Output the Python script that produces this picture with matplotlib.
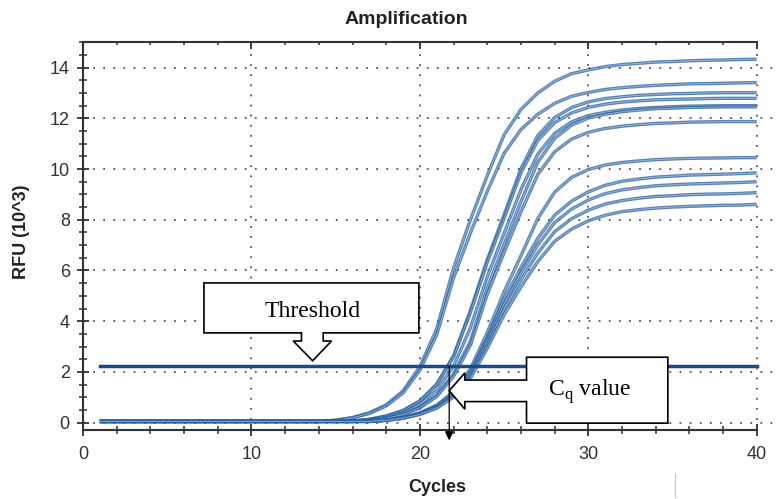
import matplotlib
matplotlib.use("Agg")
import matplotlib.pyplot as plt
from matplotlib.patches import Polygon
from matplotlib.lines import Line2D
from matplotlib.ticker import MultipleLocator

plt.rcParams['font.family'] = ['Liberation Sans', 'DejaVu Sans']
plt.rcParams['mathtext.fontset'] = 'custom'
plt.rcParams['mathtext.rm'] = 'Liberation Serif'

# 数据：每条曲线在第 1..40 个循环的 RFU (x10^3)
cycles = list(range(1, 41))

rfu_a = [0.05, 0.05, 0.05, 0.05, 0.05, 0.05, 0.05, 0.05, 0.05, 0.05,
         0.05, 0.05, 0.05, 0.05, 0.10, 0.20, 0.39, 0.70, 1.25, 2.21,
         3.70, 6.10, 8.00, 9.74, 11.35, 12.35, 13.00, 13.46, 13.76, 13.91,
         14.04, 14.12, 14.17, 14.22, 14.24, 14.27, 14.29, 14.30, 14.32, 14.33]
rfu_b = [0.04, 0.04, 0.04, 0.04, 0.04, 0.04, 0.04, 0.04, 0.04, 0.04,
         0.04, 0.04, 0.04, 0.04, 0.09, 0.19, 0.36, 0.66, 1.17, 2.07,
         3.46, 5.71, 7.48, 9.12, 10.62, 11.56, 12.16, 12.59, 12.87, 13.02,
         13.14, 13.21, 13.26, 13.30, 13.33, 13.36, 13.37, 13.38, 13.40, 13.41]
rfu_c = [0.06, 0.06, 0.06, 0.06, 0.06, 0.06, 0.06, 0.06, 0.06, 0.06,
         0.06, 0.06, 0.06, 0.06, 0.06, 0.07, 0.13, 0.26, 0.48, 0.86,
         1.52, 2.64, 4.42, 6.43, 8.20, 10.02, 11.32, 12.03, 12.42, 12.65,
         12.78, 12.85, 12.91, 12.94, 12.97, 12.98, 13.00, 13.01, 13.01, 13.01]
rfu_d = [0.05, 0.05, 0.05, 0.05, 0.05, 0.05, 0.05, 0.05, 0.05, 0.05,
         0.05, 0.05, 0.05, 0.05, 0.05, 0.06, 0.13, 0.26, 0.47, 0.84,
         1.50, 2.60, 4.35, 6.32, 8.06, 9.85, 11.13, 11.83, 12.21, 12.43,
         12.56, 12.64, 12.69, 12.73, 12.75, 12.76, 12.78, 12.79, 12.79, 12.79]
rfu_e = [0.05, 0.05, 0.05, 0.05, 0.05, 0.05, 0.05, 0.05, 0.05, 0.05,
         0.05, 0.05, 0.05, 0.05, 0.05, 0.05, 0.11, 0.21, 0.40, 0.72,
         1.28, 2.23, 3.74, 5.75, 7.47, 9.19, 10.59, 11.41, 11.86, 12.11,
         12.24, 12.33, 12.39, 12.43, 12.46, 12.48, 12.49, 12.50, 12.50, 12.50]
rfu_f = [0.05, 0.05, 0.05, 0.05, 0.05, 0.05, 0.05, 0.05, 0.05, 0.05,
         0.05, 0.05, 0.05, 0.05, 0.05, 0.05, 0.09, 0.17, 0.34, 0.61,
         1.08, 1.92, 3.21, 5.30, 7.03, 8.72, 10.27, 11.21, 11.73, 12.01,
         12.16, 12.26, 12.33, 12.38, 12.40, 12.43, 12.44, 12.45, 12.45, 12.45]
rfu_h = [0.04, 0.04, 0.04, 0.04, 0.04, 0.04, 0.04, 0.04, 0.04, 0.04,
         0.04, 0.04, 0.04, 0.04, 0.04, 0.04, 0.08, 0.17, 0.32, 0.58,
         1.03, 1.83, 3.06, 5.06, 6.71, 8.31, 9.79, 10.68, 11.18, 11.45,
         11.60, 11.69, 11.75, 11.80, 11.82, 11.85, 11.86, 11.87, 11.87, 11.87]
rfu_g = [0.05, 0.05, 0.05, 0.05, 0.05, 0.05, 0.05, 0.05, 0.05, 0.05,
         0.05, 0.05, 0.05, 0.05, 0.05, 0.05, 0.05, 0.10, 0.21, 0.39,
         0.69, 1.22, 2.12, 3.55, 5.16, 6.58, 8.05, 9.09, 9.67, 9.98,
         10.16, 10.26, 10.32, 10.37, 10.40, 10.42, 10.43, 10.44, 10.45, 10.45]
rfu_i = [0.06, 0.06, 0.06, 0.06, 0.06, 0.06, 0.06, 0.06, 0.06, 0.06,
         0.06, 0.06, 0.06, 0.06, 0.06, 0.06, 0.06, 0.10, 0.20, 0.36,
         0.65, 1.15, 2.00, 3.35, 4.87, 6.12, 7.27, 8.18, 8.73, 9.10,
         9.36, 9.52, 9.61, 9.68, 9.72, 9.76, 9.78, 9.80, 9.82, 9.85]
rfu_j = [0.05, 0.05, 0.05, 0.05, 0.05, 0.05, 0.05, 0.05, 0.05, 0.05,
         0.05, 0.05, 0.05, 0.05, 0.05, 0.05, 0.05, 0.10, 0.19, 0.35,
         0.63, 1.11, 1.93, 3.23, 4.69, 5.90, 7.01, 7.89, 8.42, 8.78,
         9.03, 9.18, 9.27, 9.34, 9.38, 9.41, 9.43, 9.45, 9.47, 9.50]
rfu_k = [0.04, 0.04, 0.04, 0.04, 0.04, 0.04, 0.04, 0.04, 0.04, 0.04,
         0.04, 0.04, 0.04, 0.04, 0.04, 0.04, 0.04, 0.09, 0.18, 0.34,
         0.60, 1.06, 1.84, 3.08, 4.48, 5.63, 6.69, 7.53, 8.04, 8.38,
         8.62, 8.76, 8.85, 8.92, 8.95, 8.99, 9.01, 9.02, 9.04, 9.07]
rfu_l = [0.05, 0.05, 0.05, 0.05, 0.05, 0.05, 0.05, 0.05, 0.05, 0.05,
         0.05, 0.05, 0.05, 0.05, 0.05, 0.05, 0.05, 0.09, 0.17, 0.32,
         0.57, 1.01, 1.75, 2.93, 4.25, 5.35, 6.35, 7.15, 7.63, 7.96,
         8.18, 8.32, 8.40, 8.46, 8.50, 8.53, 8.55, 8.57, 8.58, 8.61]

curves = [rfu_a, rfu_b, rfu_c, rfu_d, rfu_e, rfu_f, rfu_h,
          rfu_g, rfu_i, rfu_j, rfu_k, rfu_l]

threshold = 2.22
cq = 21.74

fig = plt.figure(figsize=(7.8, 4.99), dpi=100)
ax = fig.add_axes([83/780, 1 - 430/499, 694/780, 388/499])
ax.set_xlim(0, 41.2)
ax.set_ylim(-0.29, 15.01)

# 网格（点线）
grid_style = dict(color='#555555', lw=1.3, ls=(0, (1, 4.6)), zorder=1)
for yv in range(0, 15, 2):
    ax.axhline(yv, **grid_style)
for xv in range(10, 41, 10):
    ax.axvline(xv, **grid_style)

# 扩增曲线
for rfu in curves:
    ax.plot(cycles, rfu, color='#2a62a0', lw=2.4, alpha=0.78, zorder=3,
            solid_joinstyle='round', solid_capstyle='butt')
    ax.plot(cycles, rfu, color='#d6e2ef', lw=0.6, alpha=0.55, zorder=3,
            solid_joinstyle='round')

# 阈值线
ax.plot([cycles[0], cycles[-1]], [threshold, threshold], color='#1b4a86',
        lw=2.5, zorder=4)

# 坐标轴
for side in ['right', 'top']:
    ax.spines[side].set_visible(False)
for side in ['left', 'bottom']:
    ax.spines[side].set_color('#333333')
    ax.spines[side].set_linewidth(1.5)
ax.spines['bottom'].set_bounds(0, 40)

ax.xaxis.set_major_locator(MultipleLocator(10))
ax.xaxis.set_minor_locator(MultipleLocator(2))
ax.yaxis.set_major_locator(MultipleLocator(2))
ax.yaxis.set_minor_locator(MultipleLocator(0.5))
ax.set_yticks(range(0, 15, 2))
ax.tick_params(which='major', direction='inout', length=9, width=1.3,
               color='#333333', labelsize=13, labelcolor='#333333')
ax.tick_params(which='minor', direction='inout', length=5.5, width=1.1,
               color='#333333')
ax.tick_params(axis='x', which='major', pad=7)
ax.tick_params(axis='y', which='major', pad=5)

top = ax.twiny()
top.set_xlim(ax.get_xlim())
for side in ['right', 'left', 'bottom']:
    top.spines[side].set_visible(False)
top.spines['top'].set_bounds(0, 40)
top.spines['top'].set_color('#333333')
top.spines['top'].set_linewidth(1.5)
top.xaxis.set_major_locator(MultipleLocator(10))
top.xaxis.set_minor_locator(MultipleLocator(2))
top.tick_params(which='major', direction='in', length=5, width=1.3,
                color='#333333', labeltop=False)
top.tick_params(which='minor', direction='in', length=2.5, width=1.1,
                color='#333333')

# 标注：Threshold
thr_box = [(7.18, 5.51), (19.94, 5.51), (19.94, 3.54), (14.26, 3.54),
           (14.26, 3.22), (14.76, 3.22), (13.63, 2.44), (12.48, 3.22),
           (12.97, 3.22), (12.97, 3.54), (7.18, 3.54)]
ax.add_patch(Polygon(thr_box, closed=True, facecolor='white',
                     edgecolor='black', lw=1.2, zorder=6))
ax.text(13.62, 4.38, 'Threshold', ha='center', va='center', fontsize=17,
        family=['Liberation Serif'], zorder=7)

# 标注：Cq value
cq_box = [(26.33, 2.58), (34.72, 2.58), (34.72, -0.02), (26.33, -0.02),
          (26.33, 0.83), (22.67, 0.83), (22.67, 0.53), (21.74, 1.26),
          (22.67, 1.96), (22.67, 1.68), (26.33, 1.68)]
ax.add_patch(Polygon(cq_box, closed=True, facecolor='white',
                     edgecolor='black', lw=1.2, zorder=6, clip_on=False))
ax.text(30.09, 1.22, r'C$_{\mathrm{q}}$ value', ha='center', va='center',
        fontsize=17, family=['Liberation Serif'], zorder=7)

ax.annotate('', xy=(cq, -0.7), xytext=(cq, threshold),
            arrowprops=dict(arrowstyle='-|>', color='black', lw=0.9,
                            mutation_scale=13, shrinkA=0, shrinkB=0),
            annotation_clip=False, zorder=8)

fig.text(406/780, 1 - 19/499, 'Amplification', ha='center', va='center',
         fontsize=14, fontweight='bold', color='#222222')
fig.text(437/780, 1 - 487/499, 'Cycles', ha='center', va='center',
         fontsize=13, fontweight='bold', color='#222222')
fig.text(22/780, 1 - 232/499, 'RFU (10^3)', ha='center', va='center',
         rotation=90, fontsize=13, fontweight='bold', color='#222222')

fig.add_artist(Line2D([675/780, 675/780], [1 - 473/499, 1 - 497/499],
                      color='#cccccc', lw=1))

fig.savefig('out.png', dpi=100)
